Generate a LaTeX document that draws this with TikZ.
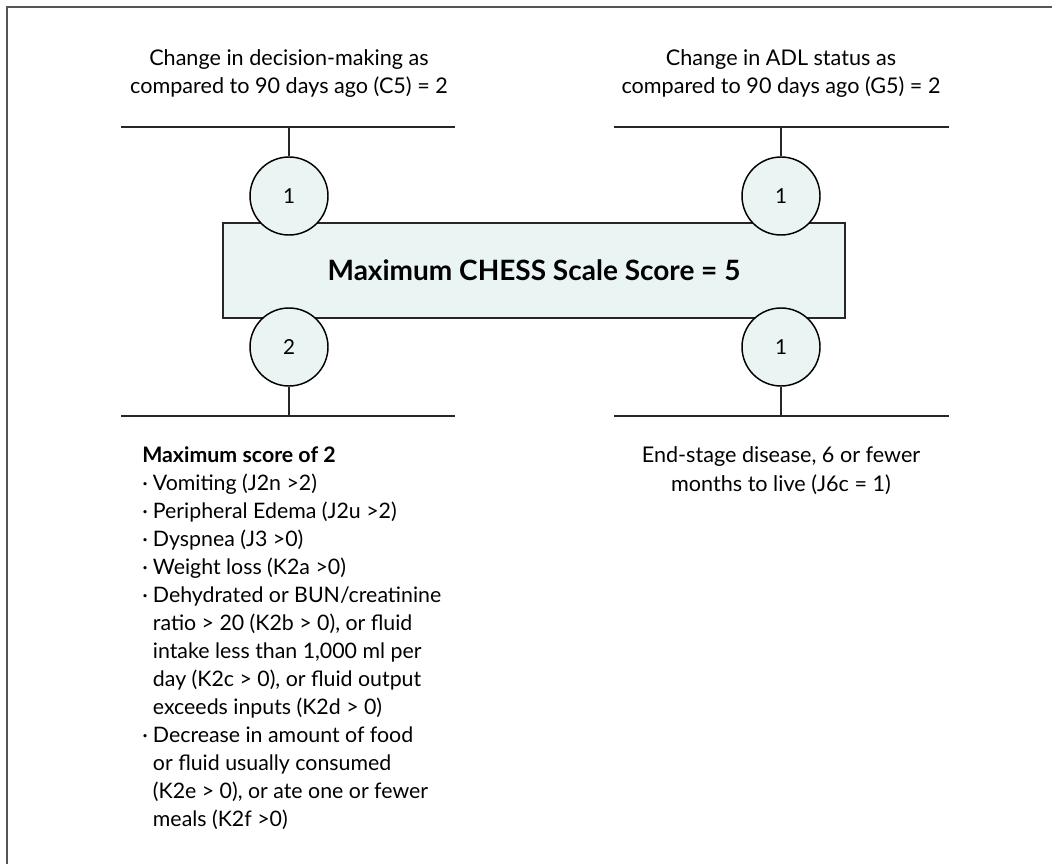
\documentclass[tikz,border=0pt]{standalone}
\usepackage{fontspec}
\setmainfont{Lato}
\usetikzlibrary{positioning}

\definecolor{chessfill}{HTML}{EAF4F3}
\definecolor{framegray}{HTML}{555555}

\tikzset{
  score box/.style={draw=black!85, line width=1.1pt, fill=chessfill,
    minimum width=466.5pt, minimum height=71.25pt, inner sep=0pt,
    font=\bfseries\fontsize{21}{25}\selectfont},
  point circle/.style={circle, draw=black, line width=1.1pt, fill=chessfill,
    minimum size=58.5pt, inner sep=0pt, font=\fontsize{15.5}{18}\selectfont},
  bar/.style={draw=black!85, line width=1.1pt},
  item text/.style={align=center, font=\fontsize{16.2}{21.7}\selectfont}
}

\newcommand{\bul}{\makebox[8pt][l]{\textperiodcentered}}
\newcommand{\ind}{\hspace*{8pt}}

\begin{document}
\begin{tikzpicture}[x=0.75pt,y=-0.75pt]
        \useasboundingbox (0,0) rectangle (1052,863);

        % Frame
        \draw[framegray, line width=1.1pt] (1060,7) -- (7,7) -- (7,870);

        %%% CENTRE BOX
        \node[score box] (chess) at (534,270.5) {Maximum CHESS Scale Score = 5};

        % Circles
        \node[point circle] (c5) at (289,196) {1};
        \node[point circle] (g5) at (781,196) {1};
        \node[point circle] (j2) at (289,347) {2};
        \node[point circle] (j6) at (781,347) {1};

        %%% TOP BARS
        \coordinate (top-l1) at (121,127);
        \coordinate (top-l2) at (455,127);
        \coordinate (top-r1) at (614,127);
        \coordinate (top-r2) at (949,127);
        \draw[bar] (top-l1) -- (top-l2);
        \draw[bar] (top-r1) -- (top-r2);
        \draw[bar] (c5.north) -- (c5.north |- top-l1);
        \draw[bar] (g5.north) -- (g5.north |- top-r1);

        %%% BOTTOM BARS
        \coordinate (bot-l1) at (121,416);
        \coordinate (bot-l2) at (455,416);
        \coordinate (bot-r1) at (614,416);
        \coordinate (bot-r2) at (949,416);
        \draw[bar] (bot-l1) -- (bot-l2);
        \draw[bar] (bot-r1) -- (bot-r2);
        \draw[bar] (j2.south) -- (j2.south |- bot-l1);
        \draw[bar] (j6.south) -- (j6.south |- bot-r1);

        %%% LABELS
        \node[item text] (c5-text) at (289,73.5)
          {Change in decision-making as\\compared to 90 days ago (C5) = 2};
        \node[item text] (g5-text) at (781,73.5)
          {Change in ADL status as\\compared to 90 days ago (G5) = 2};
        \node[item text] (j6-text) at (781,471)
          {End-stage disease, 6 or fewer\\months to live (J6c = 1)};

        % Symptom list
        \node[align=left, anchor=north west, inner sep=0pt,
              font=\fontsize{16}{21}\selectfont] (j2-text) at (142,446)
          {\textbf{Maximum score of 2}\\
           \bul Vomiting (J2n >2)\\
           \bul Peripheral Edema (J2u >2)\\
           \bul Dyspnea (J3 >0)\\
           \bul Weight loss (K2a >0)\\
           \bul Dehydrated or BUN/creatinine\\
           \ind ratio > 20 (K2b > 0), or fluid\\
           \ind intake less than 1,000 ml per\\
           \ind day (K2c > 0), or fluid output\\
           \ind exceeds inputs (K2d > 0)\\
           \bul Decrease in amount of food\\
           \ind or fluid usually consumed\\
           \ind (K2e > 0), or ate one or fewer\\
           \ind meals (K2f >0)};

\end{tikzpicture}
\end{document}
